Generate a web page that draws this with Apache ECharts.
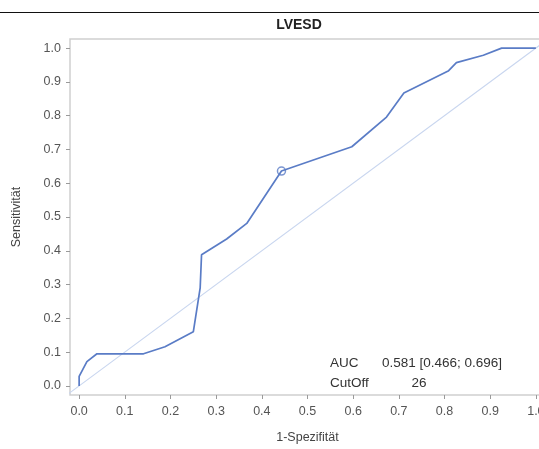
<!DOCTYPE html>
<html>
<head>
<meta charset="utf-8">
<script src="https://cdn.jsdelivr.net/npm/echarts@6/dist/echarts.min.js"></script>
<style>
  html, body { margin: 0; padding: 0; background: #fff; }
  #chart { width: 539px; height: 449px; }
</style>
</head>
<body>
<div id="chart"></div>
<script>
// ROC curve for LVESD: false positive rate (1 - specificity) vs. sensitivity
const fpr = [0, 0, 0.017, 0.039, 0.141, 0.188, 0.25, 0.265, 0.268, 0.323, 0.367, 0.443, 0.597, 0.673, 0.711, 0.808, 0.826, 0.885, 0.925, 1.0];
const tpr = [0, 0.028, 0.072, 0.095, 0.095, 0.116, 0.16, 0.29, 0.388, 0.435, 0.481, 0.636, 0.708, 0.796, 0.867, 0.932, 0.957, 0.979, 1.0, 1.0];

// chance diagonal, extended to the frame edges
const diagX = [-0.03, 1.03];
const diagY = [-0.03, 1.03];

// optimal cut-off point on the curve
const cutX = [0.443];
const cutY = [0.636];

const tickValues = [0, 0.1, 0.2, 0.3, 0.4, 0.5, 0.6, 0.7, 0.8, 0.9, 1.0];

const titleText = 'LVESD';
const xName = '1-Spezifität';
const yName = 'Sensitivität';
const statLabels = ['AUC', 'CutOff'];
const statValues = ['0.581 [0.466; 0.696]', '26'];

const zip = (a, b) => a.map((v, i) => [v, b[i]]);

const FONT = '"Liberation Sans", Arial, sans-serif';
const CURVE = '#5a7cc6';
const DIAG = '#c9d6ef';

const chart = echarts.init(document.getElementById('chart'), null, { renderer: 'canvas' });

const axisCommon = {
  type: 'value',
  splitLine: { show: false },
  axisLine: { show: false, onZero: false },
  axisTick: {
    show: true, inside: false, length: 4,
    customValues: tickValues,
    lineStyle: { color: '#9a9a9a', width: 1 }
  },
  axisLabel: {
    customValues: tickValues,
    color: '#555', fontFamily: FONT, fontSize: 12.5,
    formatter: v => v.toFixed(1)
  },
  nameLocation: 'middle',
  nameTextStyle: { color: '#444', fontFamily: FONT, fontSize: 12.5 }
};

chart.setOption({
  animation: false,
  backgroundColor: '#fff',
  grid: {
    left: 70, top: 39, width: 475, height: 356,
    containLabel: false,
    outerBoundsMode: 'none',
    show: true, borderColor: '#cfcfcf', borderWidth: 1.5, backgroundColor: 'transparent'
  },
  xAxis: Object.assign({}, axisCommon, {
    min: -0.02, max: 1.02,
    name: xName, nameGap: 36,
    axisLabel: Object.assign({}, axisCommon.axisLabel, { margin: 10 })
  }),
  yAxis: Object.assign({}, axisCommon, {
    min: -0.027, max: 1.027,
    name: yName, nameGap: 47,
    axisLabel: Object.assign({}, axisCommon.axisLabel, { margin: 9 })
  }),
  series: [
    {
      type: 'line',
      data: zip(diagX, diagY),
      symbol: 'none',
      clip: true,
      lineStyle: { color: DIAG, width: 1.2 },
      silent: true
    },
    {
      type: 'line',
      data: zip(fpr, tpr),
      symbol: 'none',
      clip: false,
      lineStyle: { color: CURVE, width: 1.7 },
      silent: true
    },
    {
      type: 'scatter',
      data: zip(cutX, cutY),
      symbol: 'circle',
      symbolSize: 8,
      itemStyle: { color: 'rgba(255,255,255,0)', borderColor: CURVE, borderWidth: 1.5 },
      silent: true
    }
  ],
  graphic: [
    {
      type: 'line',
      shape: { x1: 0, y1: 12.5, x2: 539, y2: 12.5 },
      style: { stroke: '#111', lineWidth: 1.2 }
    },
    {
      type: 'text',
      x: 299, y: 25,
      style: {
        text: titleText, fill: '#222', font: 'bold 14px ' + FONT,
        textAlign: 'center', textVerticalAlign: 'middle'
      }
    },
    {
      type: 'text', x: 330, y: 363,
      style: { text: statLabels[0], fill: '#333', font: '13.5px ' + FONT, textVerticalAlign: 'middle' }
    },
    {
      type: 'text', x: 382, y: 363,
      style: { text: statValues[0], fill: '#333', font: '13.5px ' + FONT, textVerticalAlign: 'middle' }
    },
    {
      type: 'text', x: 330, y: 383,
      style: { text: statLabels[1], fill: '#333', font: '13.5px ' + FONT, textVerticalAlign: 'middle' }
    },
    {
      type: 'text', x: 419, y: 383,
      style: { text: statValues[1], fill: '#333', font: '13.5px ' + FONT, textAlign: 'center', textVerticalAlign: 'middle' }
    }
  ]
});
</script>
</body>
</html>
